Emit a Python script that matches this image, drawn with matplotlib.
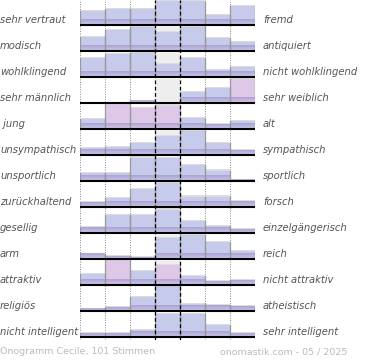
# Onogramm: 13 Eigenschaftspaare, je 7 Stufen

import numpy as np
import matplotlib.pyplot as plt
import matplotlib.transforms as mtransforms
from matplotlib.colors import to_rgb

left_labels = ['sehr vertraut', 'modisch', 'wohlklingend', 'sehr männlich', ' jung',
               'unsympathisch', 'unsportlich', 'zurückhaltend', 'gesellig', 'arm',
               'attraktiv', 'religiös', 'nicht intelligent']
right_labels = ['fremd', 'antiquiert', 'nicht wohlklingend', 'sehr weiblich', 'alt',
                'sympathisch', 'sportlich', 'forsch', 'einzelgängerisch', 'reich',
                'nicht attraktiv', 'atheistisch', 'sehr intelligent']

# relative Balkenhöhen (Anteil der Zeilenhöhe)
values = [
    [0.54, 0.60, 0.60, 0.93, 0.92, 0.38, 0.74],
    [0.53, 0.81, 0.91, 0.72, 0.93, 0.51, 0.36],
    [0.74, 0.87, 0.93, 0.49, 0.74, 0.28, 0.40],
    [0.00, 0.00, 0.08, 0.00, 0.42, 0.58, 0.94],
    [0.37, 0.95, 0.82, 0.90, 0.41, 0.18, 0.32],
    [0.28, 0.32, 0.45, 0.73, 0.92, 0.47, 0.19],
    [0.32, 0.32, 0.90, 0.87, 0.60, 0.40, 0.04],
    [0.17, 0.33, 0.68, 0.91, 0.40, 0.40, 0.24],
    [0.23, 0.67, 0.70, 0.90, 0.47, 0.26, 0.15],
    [0.20, 0.10, 0.07, 0.81, 0.91, 0.64, 0.30],
    [0.43, 0.95, 0.54, 0.76, 0.35, 0.13, 0.19],
    [0.09, 0.15, 0.55, 0.94, 0.28, 0.23, 0.19],
    [0.15, 0.15, 0.28, 0.87, 0.87, 0.45, 0.15],
]
# rosa markierte Balken (Zeile, Spalte)
pink = [(3, 6), (4, 1), (4, 2), (4, 3), (10, 1), (10, 3)]

footer_left = 'Onogramm Cecile, 101 Stimmen'
footer_right = 'onomastik.com - 05 / 2025'

nrows = len(values)
ncols = 7

fig = plt.figure(figsize=(3.7, 3.6), dpi=100)
ax = fig.add_axes([80 / 370, 20 / 360, 175 / 370, 340 / 360])
ax.axis('off')

blue = '#c6cbec'
rose = '#dec8e8'
purple = np.array(to_rgb('#a99bd0'))
strip = np.zeros((20, 1, 4))
strip[:, 0, :3] = purple
strip[:, 0, 3] = np.linspace(0.0, 0.85, 20)  # unten kräftig

for i, row in enumerate(values):
    yb = nrows - 1 - i
    # grauer Hintergrund in der Mittelspalte
    ax.bar(3, 0.92, width=1, bottom=yb, align='edge', color='#eeeeee', zorder=1)
    for j, v in enumerate(row):
        if v <= 0:
            continue
        col = rose if (i, j) in pink else blue
        ax.bar(j, 0.04, width=1, bottom=yb + v, align='edge', color='#dddddd', zorder=2)
        ax.bar(j, v, width=1, bottom=yb, align='edge', color=col, zorder=3)
        ax.imshow(strip, extent=(j, j + 1, yb, yb + min(v, 0.22)), aspect='auto',
                  origin='lower', zorder=4)
        ax.plot([j, j], [yb, yb + v], color='#999999', lw=0.9, zorder=5)
        ax.plot([j + 1, j + 1], [yb, yb + v], color='#999999', lw=0.9, zorder=5)
    ax.plot([0, ncols], [yb, yb], color='black', lw=1.5, zorder=6, solid_capstyle='butt')

for x in [0, 1, 2, 5, 6, 7]:
    ax.axvline(x, color='#888888', lw=0.7, ls=(0, (1, 1.5)), zorder=0.5)
for x in [3, 4]:
    ax.axvline(x, color='black', lw=0.9, ls=(0, (3, 2)), zorder=7)

ax.set_aspect('auto')
ax.set_xlim(0, ncols)
ax.set_ylim(-0.12, nrows - 0.04)

tr = mtransforms.blended_transform_factory(fig.transFigure, ax.transData)
for i in range(nrows):
    yb = nrows - 1 - i
    ax.text(0.0, yb + 0.2, left_labels[i], transform=tr, ha='left', va='center',
            fontsize=7.2, style='italic', color='#555555')
    ax.text(263 / 370, yb + 0.2, right_labels[i], transform=tr, ha='left', va='center',
            fontsize=7.2, style='italic', color='#555555')

fig.text(0.0, 8 / 360, footer_left, ha='left', va='center', fontsize=6.8, color='#bbbbbb')
fig.text(347 / 370, 8 / 360, footer_right, ha='right', va='center', fontsize=6.8, color='#bbbbbb')

plt.savefig('out.png', dpi=100)
